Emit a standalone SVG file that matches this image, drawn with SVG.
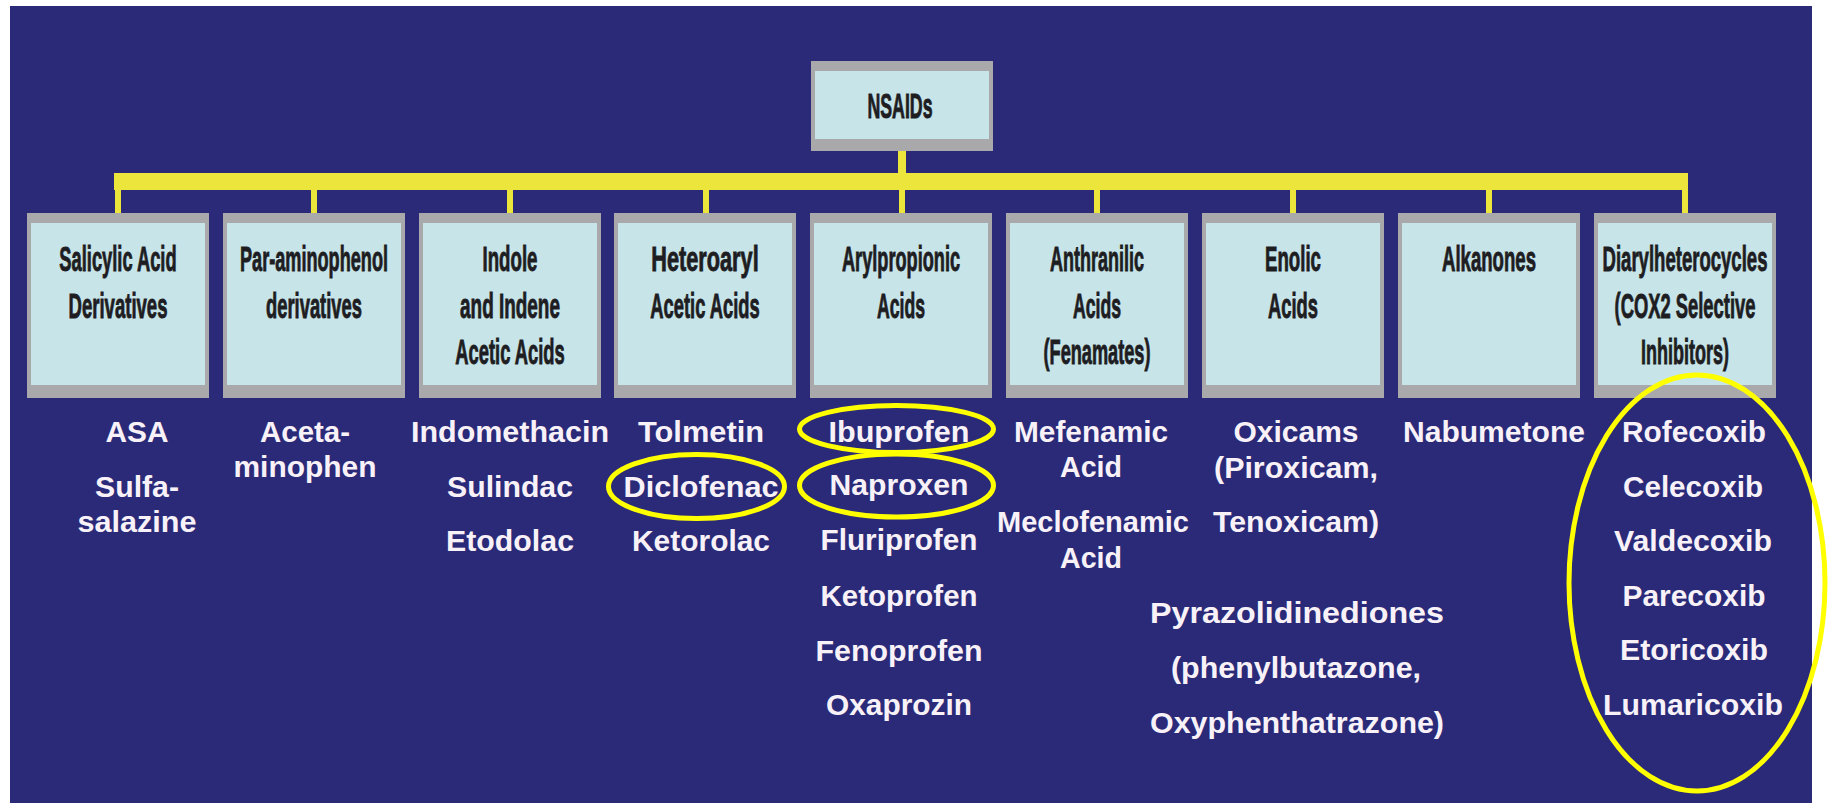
<svg xmlns="http://www.w3.org/2000/svg" width="1831" height="803" viewBox="0 0 1831 803">
<style>
.frame{fill:#a9a9ab}
.face{fill:#c7e4e9}
.lbl{font-family:"Liberation Sans",Arial,sans-serif;font-weight:bold;font-size:35px;fill:#1d1d22;stroke:#1d1d22;stroke-width:0.9px;text-anchor:middle}
.drug{font-family:"Liberation Sans",Arial,sans-serif;font-weight:bold;font-size:29px;fill:#f8f2f8;text-anchor:middle}
.bar{fill:#ece63c}
.hl{fill:none;stroke:#ffff00;stroke-width:5}
</style>
<rect x="0" y="0" width="1831" height="803" fill="#ffffff"/>
<rect x="10" y="6" width="1802" height="797" fill="#2a2a78"/>

<g id="connectors">
<rect class="bar" x="114" y="173" width="1574" height="17"/>
<rect class="bar" x="898" y="151" width="8" height="24"/>
<rect class="bar" x="115" y="188" width="6" height="26"/>
<rect class="bar" x="311" y="188" width="6" height="26"/>
<rect class="bar" x="507" y="188" width="6" height="26"/>
<rect class="bar" x="703" y="188" width="6" height="26"/>
<rect class="bar" x="899" y="188" width="6" height="26"/>
<rect class="bar" x="1094" y="188" width="6" height="26"/>
<rect class="bar" x="1290" y="188" width="6" height="26"/>
<rect class="bar" x="1486" y="188" width="6" height="26"/>
<rect class="bar" x="1682" y="188" width="6" height="26"/>
</g>

<g id="nsaids">
<rect class="frame" x="811" y="61" width="182" height="90"/>
<rect class="face" x="815" y="71" width="174" height="68"/>
<text class="lbl" transform="matrix(0.507 0 0 1 900 118)">NSAIDs</text>
</g>

<g id="salicylic">
<rect class="frame" x="27" y="213" width="182" height="185"/>
<rect class="face" x="31" y="223" width="174" height="162"/>
<text class="lbl" transform="matrix(0.523 0 0 1 118 271)">Salicylic Acid</text>
<text class="lbl" transform="matrix(0.530 0 0 1 118 318)">Derivatives</text>
</g>

<g id="paraaminophenol">
<rect class="frame" x="223" y="213" width="182" height="185"/>
<rect class="face" x="227" y="223" width="174" height="162"/>
<text class="lbl" transform="matrix(0.518 0 0 1 314 271)">Par-aminophenol</text>
<text class="lbl" transform="matrix(0.525 0 0 1 314 318)">derivatives</text>
</g>

<g id="indole">
<rect class="frame" x="419" y="213" width="182" height="185"/>
<rect class="face" x="423" y="223" width="174" height="162"/>
<text class="lbl" transform="matrix(0.533 0 0 1 510 271)">Indole</text>
<text class="lbl" transform="matrix(0.541 0 0 1 510 318)">and Indene</text>
<text class="lbl" transform="matrix(0.524 0 0 1 510 364)">Acetic Acids</text>
</g>

<g id="heteroaryl">
<rect class="frame" x="614" y="213" width="182" height="185"/>
<rect class="face" x="618" y="223" width="174" height="162"/>
<text class="lbl" transform="matrix(0.62 0 0 1 705 271)">Heteroaryl</text>
<text class="lbl" transform="matrix(0.524 0 0 1 705 318)">Acetic Acids</text>
</g>

<g id="arylpropionic">
<rect class="frame" x="810" y="213" width="182" height="185"/>
<rect class="face" x="814" y="223" width="174" height="162"/>
<text class="lbl" transform="matrix(0.519 0 0 1 901 271)">Arylpropionic</text>
<text class="lbl" transform="matrix(0.504 0 0 1 901 318)">Acids</text>
</g>

<g id="anthranilic">
<rect class="frame" x="1006" y="213" width="182" height="185"/>
<rect class="face" x="1010" y="223" width="174" height="162"/>
<text class="lbl" transform="matrix(0.514 0 0 1 1097 271)">Anthranilic</text>
<text class="lbl" transform="matrix(0.504 0 0 1 1097 318)">Acids</text>
<text class="lbl" transform="matrix(0.519 0 0 1 1097 364)">(Fenamates)</text>
</g>

<g id="enolic">
<rect class="frame" x="1202" y="213" width="182" height="185"/>
<rect class="face" x="1206" y="223" width="174" height="162"/>
<text class="lbl" transform="matrix(0.533 0 0 1 1293 271)">Enolic</text>
<text class="lbl" transform="matrix(0.525 0 0 1 1293 318)">Acids</text>
</g>

<g id="alkanones">
<rect class="frame" x="1398" y="213" width="182" height="185"/>
<rect class="face" x="1402" y="223" width="174" height="162"/>
<text class="lbl" transform="matrix(0.531 0 0 1 1489 271)">Alkanones</text>
</g>

<g id="diarylheterocycles">
<rect class="frame" x="1594" y="213" width="182" height="185"/>
<rect class="face" x="1598" y="223" width="174" height="162"/>
<text class="lbl" transform="matrix(0.530 0 0 1 1685 271)">Diarylheterocycles</text>
<text class="lbl" transform="matrix(0.525 0 0 1 1685 318)">(COX2 Selective</text>
<text class="lbl" transform="matrix(0.514 0 0 1 1685 364)">Inhibitors)</text>
</g>

<g id="drugs-salicylic">
<text class="drug" x="137" y="442" textLength="63" lengthAdjust="spacingAndGlyphs">ASA</text>
<text class="drug" x="137" y="497" textLength="84" lengthAdjust="spacingAndGlyphs">Sulfa-</text>
<text class="drug" x="137" y="532" textLength="119" lengthAdjust="spacingAndGlyphs">salazine</text>
</g>
<g id="drugs-paraaminophenol">
<text class="drug" x="305" y="442" textLength="90" lengthAdjust="spacingAndGlyphs">Aceta-</text>
<text class="drug" x="305" y="477" textLength="143" lengthAdjust="spacingAndGlyphs">minophen</text>
</g>
<g id="drugs-indole">
<text class="drug" x="510" y="442" textLength="198" lengthAdjust="spacingAndGlyphs">Indomethacin</text>
<text class="drug" x="510" y="497" textLength="126" lengthAdjust="spacingAndGlyphs">Sulindac</text>
<text class="drug" x="510" y="551" textLength="128" lengthAdjust="spacingAndGlyphs">Etodolac</text>
</g>
<g id="drugs-heteroaryl">
<text class="drug" x="701" y="442" textLength="126" lengthAdjust="spacingAndGlyphs">Tolmetin</text>
<text class="drug" x="701" y="497" textLength="155" lengthAdjust="spacingAndGlyphs">Diclofenac</text>
<text class="drug" x="701" y="551" textLength="138" lengthAdjust="spacingAndGlyphs">Ketorolac</text>
</g>
<g id="drugs-arylpropionic">
<text class="drug" x="899" y="442" textLength="141" lengthAdjust="spacingAndGlyphs">Ibuprofen</text>
<text class="drug" x="899" y="495" textLength="139" lengthAdjust="spacingAndGlyphs">Naproxen</text>
<text class="drug" x="899" y="550" textLength="157" lengthAdjust="spacingAndGlyphs">Fluriprofen</text>
<text class="drug" x="899" y="606" textLength="157" lengthAdjust="spacingAndGlyphs">Ketoprofen</text>
<text class="drug" x="899" y="661" textLength="167" lengthAdjust="spacingAndGlyphs">Fenoprofen</text>
<text class="drug" x="899" y="715" textLength="146" lengthAdjust="spacingAndGlyphs">Oxaprozin</text>
</g>
<g id="drugs-anthranilic">
<text class="drug" x="1091" y="442" textLength="154" lengthAdjust="spacingAndGlyphs">Mefenamic</text>
<text class="drug" x="1091" y="477" textLength="62" lengthAdjust="spacingAndGlyphs">Acid</text>
<text class="drug" x="1093" y="532" textLength="192" lengthAdjust="spacingAndGlyphs">Meclofenamic</text>
<text class="drug" x="1091" y="568" textLength="62" lengthAdjust="spacingAndGlyphs">Acid</text>
</g>
<g id="drugs-enolic">
<text class="drug" x="1296" y="442" textLength="125" lengthAdjust="spacingAndGlyphs">Oxicams</text>
<text class="drug" x="1296" y="478" textLength="164" lengthAdjust="spacingAndGlyphs">(Piroxicam,</text>
<text class="drug" x="1296" y="532" textLength="166" lengthAdjust="spacingAndGlyphs">Tenoxicam)</text>
<text class="drug" x="1297" y="623" textLength="294" lengthAdjust="spacingAndGlyphs">Pyrazolidinediones</text>
<text class="drug" x="1296" y="678" textLength="250" lengthAdjust="spacingAndGlyphs">(phenylbutazone,</text>
<text class="drug" x="1297" y="733" textLength="294" lengthAdjust="spacingAndGlyphs">Oxyphenthatrazone)</text>
</g>
<g id="drugs-alkanones">
<text class="drug" x="1494" y="442" textLength="182" lengthAdjust="spacingAndGlyphs">Nabumetone</text>
</g>
<g id="drugs-diarylheterocycles">
<text class="drug" x="1694" y="442" textLength="144" lengthAdjust="spacingAndGlyphs">Rofecoxib</text>
<text class="drug" x="1693" y="497" textLength="140" lengthAdjust="spacingAndGlyphs">Celecoxib</text>
<text class="drug" x="1693" y="551" textLength="158" lengthAdjust="spacingAndGlyphs">Valdecoxib</text>
<text class="drug" x="1694" y="606" textLength="143" lengthAdjust="spacingAndGlyphs">Parecoxib</text>
<text class="drug" x="1694" y="660" textLength="148" lengthAdjust="spacingAndGlyphs">Etoricoxib</text>
<text class="drug" x="1693" y="715" textLength="180" lengthAdjust="spacingAndGlyphs">Lumaricoxib</text>
</g>

<g id="highlights">
<ellipse class="hl" cx="896.5" cy="429" rx="97" ry="23.5"/>
<ellipse class="hl" cx="896.5" cy="485.5" rx="97" ry="31.5"/>
<ellipse class="hl" cx="696.5" cy="486.5" rx="88" ry="32"/>
<ellipse class="hl" cx="1697" cy="583" rx="128" ry="208"/>
</g>
</svg>
